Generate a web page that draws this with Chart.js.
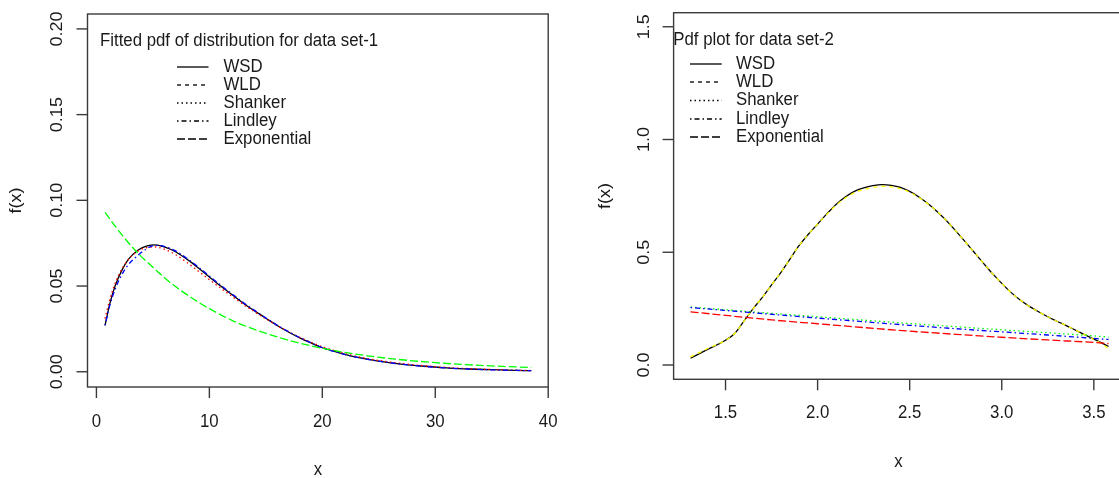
<!DOCTYPE html>
<html>
<head>
<meta charset="utf-8">
<script src="https://cdn.jsdelivr.net/npm/chart.js@4.4.1/dist/chart.umd.min.js"></script>
<style>
  html, body { margin: 0; padding: 0; background: #fff; overflow: hidden; }
  #quadro { position: relative; width: 1119px; height: 478px; overflow: hidden; }
  #g1 { position: absolute; left: 0; top: 0; }
  #g2 { position: absolute; left: 560px; top: 0; }
</style>
</head>
<body>
<div id="quadro">
  <canvas id="g1" width="560" height="478"></canvas>
  <canvas id="g2" width="580" height="478"></canvas>
</div>
<script>
// ===== DADOS: CONJUNTO 1 =====
const x1 = [0.76, 1.2, 1.65, 2.24, 2.83, 3.7, 4.5, 5.2, 6, 7, 8, 9, 10, 11, 12, 13, 14, 15, 16, 17,
            18, 19, 20, 21.5, 23, 25, 27, 29, 31, 33, 35, 37, 38.5];
const wsd1 = [0.027, 0.040, 0.050, 0.059, 0.0655, 0.071, 0.0735, 0.0740, 0.0728, 0.0700,
              0.0657, 0.0607, 0.0553, 0.0500, 0.0450, 0.0400, 0.0355, 0.0312, 0.0270, 0.0232,
              0.0198, 0.0168, 0.0140, 0.0110, 0.0085, 0.0062, 0.0044, 0.0032, 0.0023, 0.0016,
              0.0012, 0.0008, 0.0006];
const shanker1 = [0.031, 0.0425, 0.0515, 0.0598, 0.0655, 0.0705, 0.0725, 0.0728, 0.0715, 0.0683,
                  0.0638, 0.0588, 0.0537, 0.0488, 0.0440, 0.0393, 0.0350, 0.0309, 0.0270, 0.0234,
                  0.0201, 0.0172, 0.0146, 0.0115, 0.0090, 0.0066, 0.0048, 0.0035, 0.0025, 0.0018,
                  0.0013, 0.0009, 0.0007];
const lindley1 = [0.027, 0.039, 0.048, 0.0565, 0.0625, 0.068, 0.0720, 0.0737, 0.0732, 0.0705,
                  0.0662, 0.0612, 0.0558, 0.0505, 0.0454, 0.0404, 0.0358, 0.0314, 0.0272, 0.0234,
                  0.0199, 0.0169, 0.0141, 0.0110, 0.0085, 0.0062, 0.0044, 0.0031, 0.0022, 0.0016,
                  0.0011, 0.0008, 0.0006];
const xExp1 = [0.76, 2, 3, 4, 5, 6, 7, 8, 9, 10, 12, 14, 16, 18, 20, 22, 24, 26, 28, 30, 32, 34, 36, 38.5];
const exp1 = [0.093, 0.082, 0.074, 0.067, 0.061, 0.055, 0.0497, 0.045, 0.0407, 0.0368, 0.030, 0.0247,
              0.0203, 0.0167, 0.0137, 0.0113, 0.0093, 0.0077, 0.0064, 0.0053, 0.0044, 0.0037, 0.0031, 0.0025];

// ===== DADOS: CONJUNTO 2 =====
const x2 = [1.31, 1.40, 1.50, 1.55, 1.60, 1.65, 1.70, 1.75, 1.80, 1.85, 1.90, 1.95, 2.00, 2.05, 2.10,
            2.15, 2.20, 2.25, 2.30, 2.35, 2.40, 2.45, 2.50, 2.55, 2.60, 2.65, 2.70, 2.75, 2.80, 2.85,
            2.90, 2.95, 3.00, 3.05, 3.10, 3.15, 3.20, 3.25, 3.30, 3.35, 3.40, 3.45, 3.50, 3.55, 3.58];
const wsd2 = [0.030, 0.068, 0.110, 0.140, 0.195, 0.250, 0.300, 0.355, 0.410, 0.470, 0.530, 0.580, 0.625, 0.670, 0.712,
              0.745, 0.770, 0.785, 0.795, 0.800, 0.797, 0.788, 0.770, 0.745, 0.715, 0.680, 0.640, 0.595, 0.548, 0.500,
              0.452, 0.405, 0.362, 0.322, 0.288, 0.260, 0.236, 0.214, 0.194, 0.175, 0.155, 0.135, 0.115, 0.095, 0.082];
const wld2 = [0.036, 0.072, 0.110, 0.140, 0.195, 0.250, 0.300, 0.355, 0.410, 0.470, 0.530, 0.580, 0.625, 0.668, 0.708,
              0.740, 0.764, 0.778, 0.787, 0.792, 0.790, 0.782, 0.766, 0.743, 0.714, 0.680, 0.640, 0.595, 0.548, 0.500,
              0.452, 0.405, 0.362, 0.322, 0.288, 0.260, 0.236, 0.214, 0.194, 0.175, 0.155, 0.135, 0.113, 0.090, 0.072];
const xLin2 = [1.31, 1.5, 1.75, 2.0, 2.25, 2.5, 2.75, 3.0, 3.25, 3.5, 3.58];
const shanker2 = [0.257, 0.245, 0.229, 0.214, 0.199, 0.184, 0.170, 0.156, 0.143, 0.129, 0.124];
const lindley2 = [0.255, 0.242, 0.225, 0.208, 0.192, 0.176, 0.161, 0.147, 0.133, 0.118, 0.113];
const exp2 = [0.236, 0.220, 0.200, 0.183, 0.166, 0.150, 0.136, 0.123, 0.111, 0.100, 0.095];

// ===== EIXOS =====
const ticksX1 = [0, 10, 20, 30, 40];
const rotX1 = ['0', '10', '20', '30', '40'];
const ticksY1 = [0, 0.05, 0.10, 0.15, 0.20];
const rotY1 = ['0.00', '0.05', '0.10', '0.15', '0.20'];
const ticksX2 = [1.5, 2.0, 2.5, 3.0, 3.5];
const rotX2 = ['1.5', '2.0', '2.5', '3.0', '3.5'];
const ticksY2 = [0, 0.5, 1.0, 1.5];
const rotY2 = ['0.0', '0.5', '1.0', '1.5'];

const nomes = ['WSD', 'WLD', 'Shanker', 'Lindley', 'Exponential'];
const tracos = { WSD: [], WLD: [4, 4], Shanker: [1.5, 3], Lindley: [1.5, 3, 5, 3], Exponential: [8, 3] };

const FONTE = '18px "Liberation Sans", Arial, sans-serif';
const APERTO = 0.933; // a imagem original foi comprimida na horizontal

function pontos(xs, ys) {
    return xs.map((x, i) => ({ x: x, y: ys[i] }));
}

function serie(nome, xs, ys, cor, ordem) {
    return {
        label: nome,
        data: pontos(xs, ys),
        borderColor: cor,
        borderWidth: 1.3,
        borderDash: tracos[nome],
        pointRadius: 0,
        fill: false,
        cubicInterpolationMode: 'monotone',
        order: ordem
    };
}

function texto(ctx, str, x, y, girar, alinhar) {
    ctx.save();
    ctx.translate(x, y);
    ctx.scale(APERTO, 1);
    if (girar) ctx.rotate(-Math.PI / 2);
    ctx.font = FONTE;
    ctx.fillStyle = '#1a1a1a';
    ctx.textAlign = alinhar || 'center';
    ctx.textBaseline = 'middle';
    ctx.fillText(str, 0, 0);
    ctx.restore();
}

// desenha caixa, eixos e legenda no estilo do R
const estiloR = {
    id: 'estiloR',
    afterDraw(chart, args, o) {
        const ctx = chart.ctx;
        const a = chart.chartArea;
        const sx = chart.scales.x, sy = chart.scales.y;
        ctx.save();
        ctx.strokeStyle = '#3a3a3a';
        ctx.lineWidth = 1.4;
        ctx.setLineDash([]);
        ctx.strokeRect(a.left, a.top, a.right - a.left, a.bottom - a.top);

        o.ticksX.forEach((v, i) => {
            const px = sx.getPixelForValue(v);
            ctx.beginPath();
            ctx.moveTo(px, a.bottom);
            ctx.lineTo(px, a.bottom + 11);
            ctx.stroke();
            texto(ctx, o.rotX[i], px, o.yRotX);
        });
        o.ticksY.forEach((v, i) => {
            const py = sy.getPixelForValue(v);
            ctx.beginPath();
            ctx.moveTo(a.left - 11, py);
            ctx.lineTo(a.left, py);
            ctx.stroke();
            texto(ctx, o.rotY[i], o.xRotY, py, true);
        });
        texto(ctx, 'x', (a.left + a.right) / 2 + o.desvioTituloX, o.yTituloX);
        texto(ctx, 'f(x)', o.xTituloY, (a.top + a.bottom) / 2, true);

        // legenda
        texto(ctx, o.titulo, o.tituloX, o.tituloY, false, 'left');
        nomes.forEach((nome, i) => {
            const y = o.legY[i];
            ctx.strokeStyle = '#000';
            ctx.lineWidth = 1.3;
            ctx.setLineDash(tracos[nome]);
            ctx.beginPath();
            ctx.moveTo(o.legX1, y);
            ctx.lineTo(o.legX2, y);
            ctx.stroke();
            texto(ctx, nome, o.legTxt, y, false, 'left');
        });
        ctx.restore();
    }
};

function criarGrafico(id, datasets, lim, padding, eixos) {
    return new Chart(document.getElementById(id), {
        type: 'line',
        data: { datasets: datasets },
        options: {
            responsive: false,
            animation: false,
            devicePixelRatio: 1,
            layout: { padding: padding },
            scales: {
                x: { type: 'linear', display: false, min: lim.xmin, max: lim.xmax },
                y: { type: 'linear', display: false, min: lim.ymin, max: lim.ymax }
            },
            plugins: {
                legend: { display: false },
                tooltip: { enabled: false },
                estiloR: eixos
            }
        },
        plugins: [estiloR]
    });
}

criarGrafico('g1', [
    serie('WSD', x1, wsd1, '#000000', 5),
    serie('Shanker', x1, shanker1, '#ff0000', 3),
    serie('Lindley', x1, lindley1, '#0000ff', 2),
    serie('Exponential', xExp1, exp1, '#00ff00', 1)
], { xmin: -0.79, xmax: 40.0, ymin: -0.0089, ymax: 0.2087 },
   { left: 87.5, right: 11.8, top: 14, bottom: 91 },
   {
       ticksX: ticksX1, rotX: rotX1, ticksY: ticksY1, rotY: rotY1,
       yRotX: 421.7, xRotY: 57, yTituloX: 470, desvioTituloX: 0, xTituloY: 16,
       titulo: 'Fitted pdf of distribution for data set-1', tituloX: 100, tituloY: 41,
       legX1: 177, legX2: 208.5, legTxt: 223.5, legY: [67, 85, 103, 121, 139]
   });

criarGrafico('g2', [
    serie('WSD', x2, wsd2, '#000000', 5),
    serie('WLD', x2, wld2, '#ffff00', 4),
    serie('Shanker', xLin2, shanker2, '#00ff00', 3),
    serie('Lindley', xLin2, lindley2, '#0000ff', 2),
    serie('Exponential', xLin2, exp2, '#ff0000', 1)
], { xmin: 1.218, xmax: 3.672, ymin: -0.0634, ymax: 1.5623 },
   { left: 113.6, right: 14.5, top: 12.7, bottom: 98.7 },
   {
       ticksX: ticksX2, rotX: rotX2, ticksY: ticksY2, rotY: rotY2,
       yRotX: 413.3, xRotY: 84, yTituloX: 461.7, desvioTituloX: -1, xTituloY: 45,
       titulo: 'Pdf plot for data set-2', tituloX: 113.3, tituloY: 40,
       legX1: 130, legX2: 161.7, legTxt: 176, legY: [64, 82, 100.5, 119, 137]
   });
</script>
</body>
</html>
